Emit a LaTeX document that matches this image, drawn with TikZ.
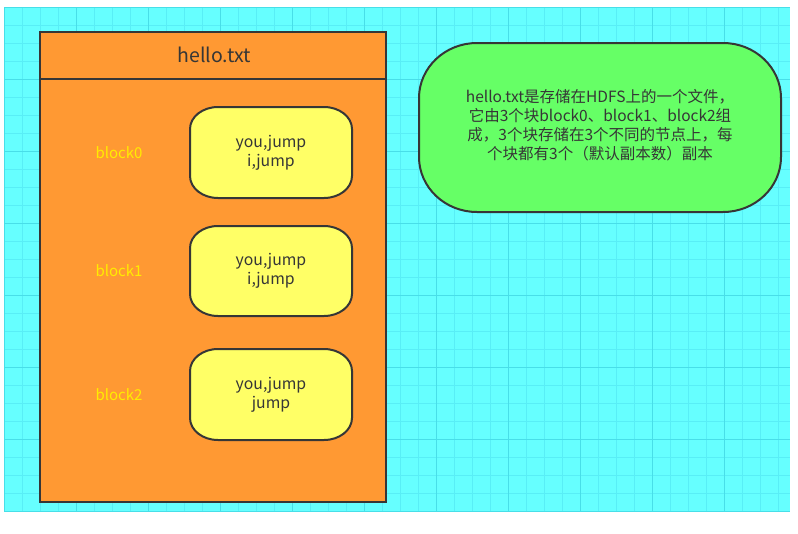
\documentclass[tikz,border=0pt]{standalone}
\usepackage{fontspec}
\setmainfont{Noto Sans CJK SC}
\definecolor{gridbg}{RGB}{102,255,255}
\definecolor{gridminor}{RGB}{88,238,246}
\definecolor{gridmajor}{RGB}{72,222,232}
\definecolor{fileorange}{RGB}{255,153,51}
\definecolor{blockyellow}{RGB}{255,255,102}
\definecolor{notegreen}{RGB}{102,255,102}
\definecolor{edgegray}{RGB}{54,54,54}
\definecolor{labelyellow}{RGB}{255,236,0}
\usetikzlibrary{positioning}

% soft box with elliptic corners: style, x1, y1, x2, y2, rx, ry
\newcommand\softbox[7]{%
  \draw[#1] (#2+#6,#3) -- (#4-#6,#3)
    .. controls (#4-0.448*#6,#3) and (#4,#3+0.448*#7) .. (#4,#3+#7)
    -- (#4,#5-#7)
    .. controls (#4,#5-0.448*#7) and (#4-0.448*#6,#5) .. (#4-#6,#5)
    -- (#2+#6,#5)
    .. controls (#2+0.448*#6,#5) and (#2,#5-0.448*#7) .. (#2,#5-#7)
    -- (#2,#3+#7)
    .. controls (#2,#3+0.448*#7) and (#2+0.448*#6,#3) .. (#2+#6,#3) -- cycle;}

\begin{document}
\begin{tikzpicture}[x=1pt,y=-1pt,
  border/.style={draw=edgegray,line width=2pt},
  blocktext/.style={font=\fontsize{15.8}{19}\selectfont,text=edgegray,align=center},
  blocklabel/.style={font=\fontsize{15}{17}\selectfont,text=labelyellow},
  notetext/.style={font=\fontsize{15.5}{19}\selectfont,text=edgegray,align=center}]
  \useasboundingbox (0,0) rectangle (798,533);
  % grid paper
  \fill[gridbg] (4,7) rectangle (790,512);
  \foreach \x in {4,22,...,790}
    \draw[gridminor,line width=0.8pt] (\x,7) -- (\x,512);
  \foreach \y in {7,25,...,512}
    \draw[gridminor,line width=0.8pt] (4,\y) -- (790,\y);
  \foreach \x in {4,76,...,790}
    \draw[gridmajor,line width=1pt] (\x,7) -- (\x,512);
  \foreach \y in {7,79,...,512}
    \draw[gridmajor,line width=1pt] (4,\y) -- (790,\y);

  % file container
  \draw[border,fill=fileorange,line width=2.5pt] (40,32) rectangle (386,502);
  \draw[border,line width=2.5pt] (40,79) -- (386,79);
  \node[font=\fontsize{19.5}{22}\selectfont,text=edgegray] (title) at (214,55) {hello.txt};

  % blocks
  \foreach \i/\yt/\yb/\txt in {0/107/198/{you,jump\\i,jump},
                               1/226/316/{you,jump\\i,jump},
                               2/349/440/{you,jump\\jump}}{
    \softbox{border,fill=blockyellow}{190}{\yt}{352}{\yb}{28}{22}
    \node[blocktext] (blk\i) at (271,{(\yt+\yb)/2}) {\txt};
    \node[blocklabel] (lbl\i) at (119,{(\yt+\yb)/2}) {block\i};
  }

  % note
  \softbox{border,fill=notegreen}{419}{43}{781}{212}{58}{55}
  \node[notetext] (note) at (600,125) {hello.txt是存储在HDFS上的一个文件，\\
    它由3个块block0、block1、block2组\\
    成，3个块存储在3个不同的节点上，每\\
    个块都有3个（默认副本数）副本};
\end{tikzpicture}
\end{document}
